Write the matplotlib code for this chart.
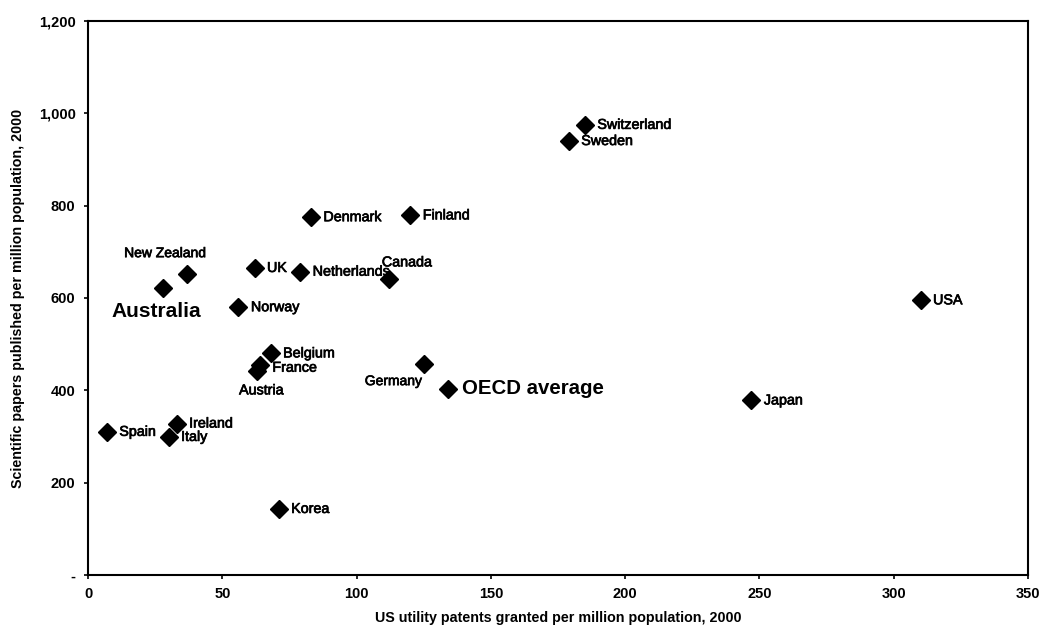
import matplotlib.pyplot as plt
import matplotlib.patheffects as pe
from matplotlib.ticker import FixedLocator

plt.rcParams["font.family"] = ["Liberation Sans", "DejaVu Sans"]

countries = ["Australia", "New Zealand", "UK", "Netherlands", "Denmark", "Norway",
             "Belgium", "France", "Austria", "Ireland", "Italy", "Spain", "Korea",
             "Finland", "Canada", "Switzerland", "Sweden", "Germany", "OECD average",
             "USA", "Japan"]
patents = [28, 37, 62, 79, 83, 56, 68, 64, 63, 33, 30, 7, 71,
           120, 112, 185, 179, 125, 134, 310, 247]
papers = [622, 652, 665, 657, 775, 580, 480, 455, 442, 328, 299, 310, 143,
          779, 641, 975, 940, 456, 403, 595, 378]

x_ticks = [0, 50, 100, 150, 200, 250, 300, 350]
y_ticks = [0, 200, 400, 600, 800, 1000, 1200]
y_tick_labels = ["-", "200", "400", "600", "800", "1,000", "1,200"]

# label offsets in points, alignment, size, weight
default = ((9, 0), "left", "center", 10.3, "normal")
special = {
    "Australia": ((-5, -17), "center", "center", 15, "bold"),
    "New Zealand": ((-16, 15), "center", "center", 10, "normal"),
    "Austria": ((3, -14), "center", "center", 10.3, "normal"),
    "France": ((9, -2), "left", "center", 10.3, "normal"),
    "Germany": ((-1, -12), "right", "center", 10, "normal"),
    "Canada": ((-5, 12), "left", "center", 10.3, "normal"),
    "OECD average": ((10, 0), "left", "center", 14.7, "bold"),
}
heavy = [pe.withStroke(linewidth=0.5, foreground="black")]

fig = plt.figure(figsize=(10.39, 6.29), dpi=100)
ax = fig.add_axes([0.0847, 0.0859, 0.9047, 0.8807])

ax.plot(patents, papers, "D", color="black", markersize=9, linestyle="none")

for name, xv, yv in zip(countries, patents, papers):
    off, ha, va, fs, fw = special.get(name, default)
    t = ax.annotate(name, (xv, yv), xytext=off, textcoords="offset points",
                    ha=ha, va=va, fontsize=fs, fontweight=fw, color="black")
    if fw == "normal":
        t.set_path_effects(heavy)

ax.set_xlim(0, 350)
ax.set_ylim(0, 1200)
ax.xaxis.set_major_locator(FixedLocator(x_ticks))
ax.set_xticklabels([str(t) for t in x_ticks])
ax.set_yticks(y_ticks)
ax.set_yticklabels(y_tick_labels)
ax.tick_params(direction="out", length=3, width=1.2, pad=6, labelsize=10.5)
for lab in ax.get_xticklabels() + ax.get_yticklabels():
    lab.set_fontweight("bold")

for s in ax.spines.values():
    s.set_linewidth(1.5)
    s.set_color("black")

ax.set_xlabel("US utility patents granted per million population, 2000",
              fontweight="bold", fontsize=10.3, labelpad=7)
ax.set_ylabel("Scientific papers published per million population, 2000",
              fontweight="bold", fontsize=10.3, labelpad=10)

fig.savefig("out.png", dpi=100)
